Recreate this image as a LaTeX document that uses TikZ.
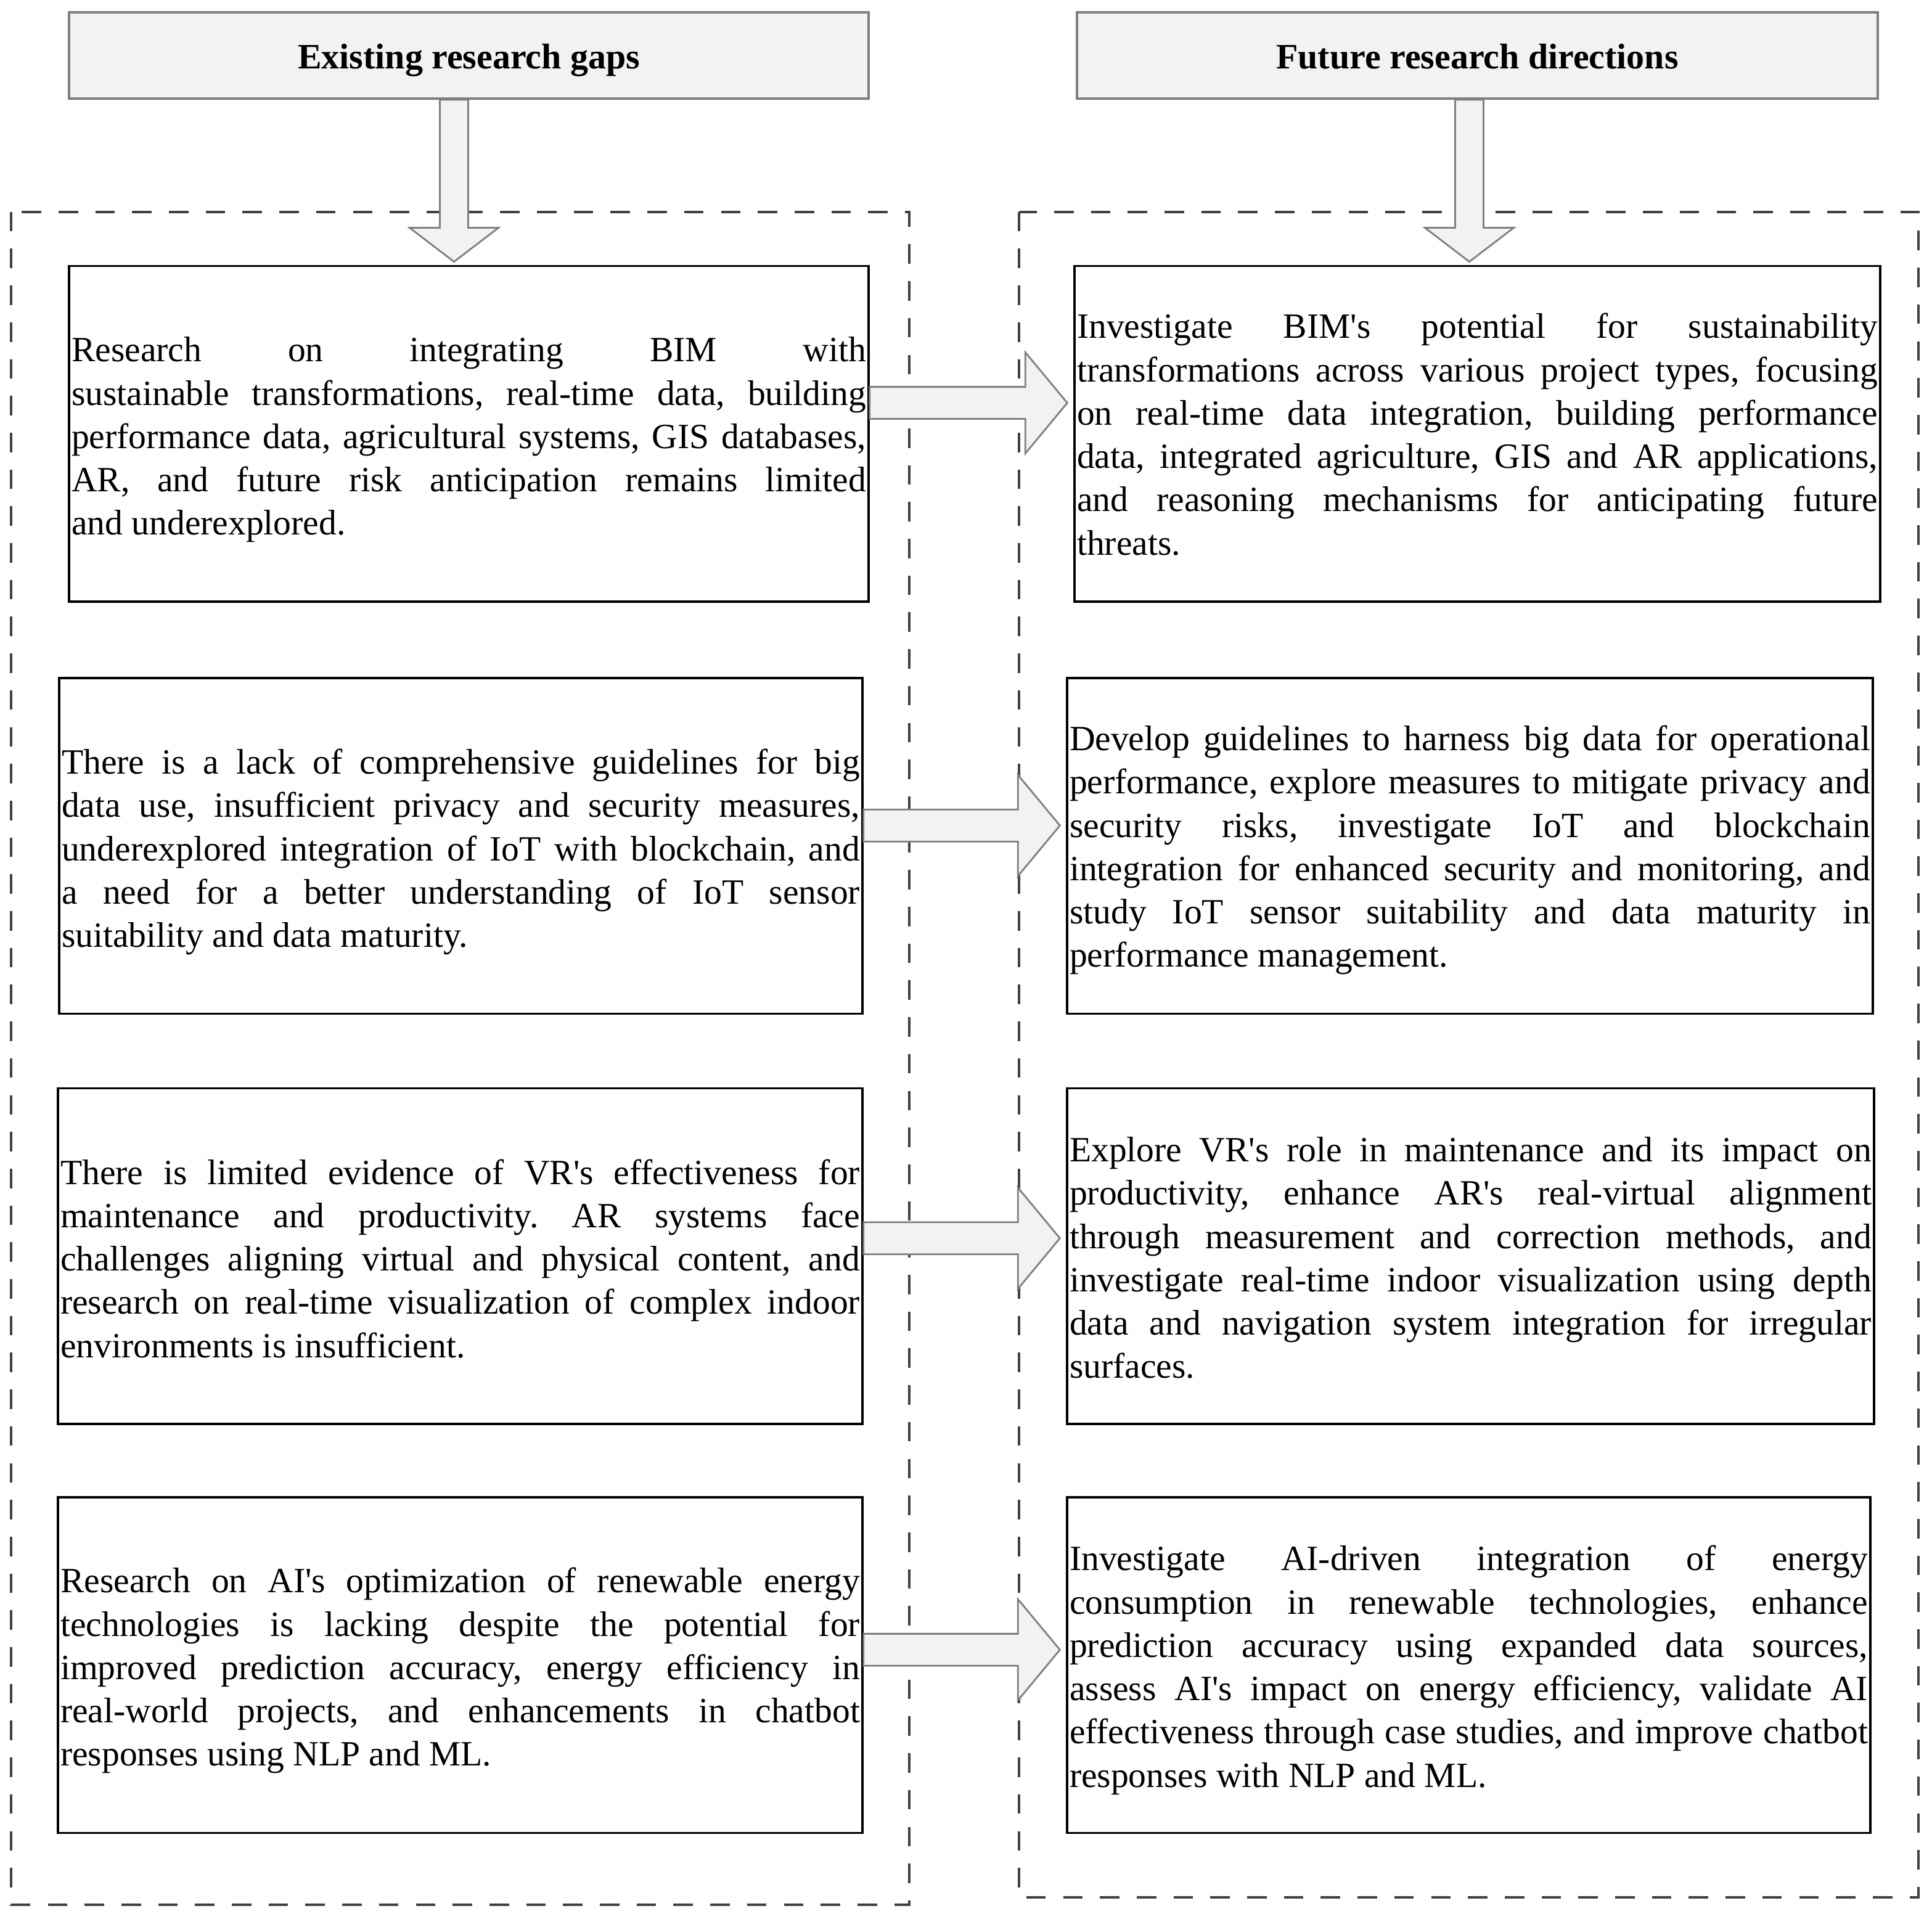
\documentclass[tikz,border=0pt]{standalone}
\usepackage{fontspec}
\setmainfont{Liberation Serif}[Ligatures=TeXOff]
\usetikzlibrary{calc}
\tolerance=10000
\hyphenpenalty=10000
\exhyphenpenalty=10000
\frenchspacing
\definecolor{hdrfill}{HTML}{F2F2F2}
\definecolor{hdrdraw}{HTML}{7F7F7F}
\definecolor{dashcol}{HTML}{404040}
\newcommand\myharrow[2]{\draw[fatarrow] ($(#1)+(0,-13)$) -- ($(#2)+(-34,-13)$) -- ($(#2)+(-34,-41)$) -- (#2) -- ($(#2)+(-34,41)$) -- ($(#2)+(-34,13)$) -- ($(#1)+(0,13)$) -- cycle;}
\newcommand\myvarrow[2]{\draw[fatarrow] ($(#1)+(-11.5,0)$) -- ($(#2)+(-11.5,-27.5)$) -- ($(#2)+(-36,-27.5)$) -- (#2) -- ($(#2)+(36,-27.5)$) -- ($(#2)+(11.5,-27.5)$) -- ($(#1)+(11.5,0)$) -- cycle;}
\begin{document}
\begin{tikzpicture}[x=0.02cm,y=-0.02cm,
  hdr/.style={draw=hdrdraw,line width=1pt,fill=hdrfill,minimum height=1.4cm,inner sep=0pt,text height=12pt,text depth=0pt,font=\fontsize{16.5}{20}\selectfont\bfseries},
  boxshape/.style={draw=black,line width=1pt,minimum height=5.45cm,inner sep=0pt},
  boxtext/.style={inner xsep=0.04cm,inner ysep=0pt,align=justify,font=\fontsize{16.4}{20}\selectfont},
  fatarrow/.style={draw=hdrdraw,line width=0.8pt,fill=hdrfill,line join=miter},
  dframe/.style={draw=dashcol,line width=1.1pt,dash pattern=on 9pt off 8pt}]
\useasboundingbox (0,0) rectangle (1568,1553);

% dashed frames
\draw[dframe] (9,172) rectangle (738,1546);
\draw[dframe] (827,172) rectangle (1557,1540);

% headers
\node[hdr,minimum width=12.98cm] (HL) at (380.5,45) {Existing research gaps};
\node[hdr,minimum width=13.00cm] (HR) at (1199,45) {Future research directions};

% boxes
\node[boxshape,minimum width=12.98cm] (L1) at (380.5,352) {};
\node[boxshape,minimum width=13.04cm] (L2) at (374,686.5) {};
\node[boxshape,minimum width=13.06cm] (L3) at (373.5,1019.5) {};
\node[boxshape,minimum width=13.06cm] (L4) at (373.5,1351.5) {};
\node[boxshape,minimum width=13.08cm] (R1) at (1199,352) {};
\node[boxshape,minimum width=13.08cm] (R2) at (1193,686.5) {};
\node[boxshape,minimum width=13.10cm] (R3) at (1193.5,1019.5) {};
\node[boxshape,minimum width=13.04cm] (R4) at (1192,1351.5) {};

% left texts
\node[boxtext,text width=12.90cm] (L1t) at ($(L1.center)+(0,5)$) {Research on integrating BIM with\linebreak sustainable transformations, real-time data, building\linebreak performance data, agricultural systems, GIS databases,\linebreak AR, and future risk anticipation remains limited\linebreak and underexplored.};
\node[boxtext,text width=12.96cm] (L2t) at ($(L2.center)+(0,5)$) {There is a lack of comprehensive guidelines for big\linebreak data use, insufficient privacy and security measures,\linebreak underexplored integration of IoT with blockchain, and\linebreak a need for a better understanding of IoT sensor\linebreak suitability and data maturity.};
\node[boxtext,text width=12.98cm] (L3t) at ($(L3.center)+(0,2)$) {There is limited evidence of VR's effectiveness for\linebreak maintenance and productivity. AR systems face\linebreak challenges aligning virtual and physical content, and\linebreak research on real-time visualization of complex indoor\linebreak environments is insufficient.};
\node[boxtext,text width=12.98cm] (L4t) at ($(L4.center)+(0,4.5)$) {Research on AI's optimization of renewable energy\linebreak technologies is lacking despite the potential for\linebreak improved prediction accuracy, energy efficiency in\linebreak real-world projects, and enhancements in chatbot\linebreak responses using NLP and ML.};

% right texts
\node[boxtext,text width=13.00cm] (R1t) at ($(R1.center)+(0,0.5)$) {Investigate BIM's potential for sustainability\linebreak transformations across various project types, focusing\linebreak on real-time data integration, building performance\linebreak data, integrated agriculture, GIS and AR applications,\linebreak and reasoning mechanisms for anticipating future\linebreak threats.};
\node[boxtext,text width=13.00cm] (R2t) at ($(R2.center)+(0,3.5)$) {Develop guidelines to harness big data for operational\linebreak performance, explore measures to mitigate privacy and\linebreak security risks, investigate IoT and blockchain\linebreak integration for enhanced security and monitoring, and\linebreak study IoT sensor suitability and data maturity in\linebreak performance management.};
\node[boxtext,text width=13.02cm] (R3t) at ($(R3.center)+(0,1.5)$) {Explore VR's role in maintenance and its impact on\linebreak productivity, enhance AR's real-virtual alignment\linebreak through measurement and correction methods, and\linebreak investigate real-time indoor visualization using depth\linebreak data and navigation system integration for irregular\linebreak surfaces.};
\node[boxtext,text width=12.96cm] (R4t) at ($(R4.center)+(0,4)$) {Investigate AI-driven integration of energy\linebreak consumption in renewable technologies, enhance\linebreak prediction accuracy using expanded data sources,\linebreak assess AI's impact on energy efficiency, validate AI\linebreak effectiveness through case studies, and improve chatbot\linebreak responses with NLP and ML.};

% arrow end points
\coordinate (d1s) at ($(HL.south)+(-12,0)$);
\coordinate (d1t) at ($(L1.north)+(-12,-2.5)$);
\coordinate (d2s) at ($(HR.south)+(-6.5,0)$);
\coordinate (d2t) at ($(R1.north)+(-6.5,-2.5)$);
\coordinate (a1s) at ($(L1.east)+(0,-25)$);
\coordinate (a1t) at ($(R1.west)+(-5,-25)$);
\coordinate (a2s) at ($(L2.east)+(0,-16.5)$);
\coordinate (a2t) at ($(R2.west)+(-5,-16.5)$);
\coordinate (a3s) at ($(L3.east)+(0,-14.5)$);
\coordinate (a3t) at ($(R3.west)+(-5,-14.5)$);
\coordinate (a4s) at ($(L4.east)+(0,-12.5)$);
\coordinate (a4t) at ($(R4.west)+(-5,-12.5)$);

% arrows
\myvarrow{d1s}{d1t}
\myvarrow{d2s}{d2t}
\myharrow{a1s}{a1t}
\myharrow{a2s}{a2t}
\myharrow{a3s}{a3t}
\myharrow{a4s}{a4t}
\end{tikzpicture}
\end{document}
